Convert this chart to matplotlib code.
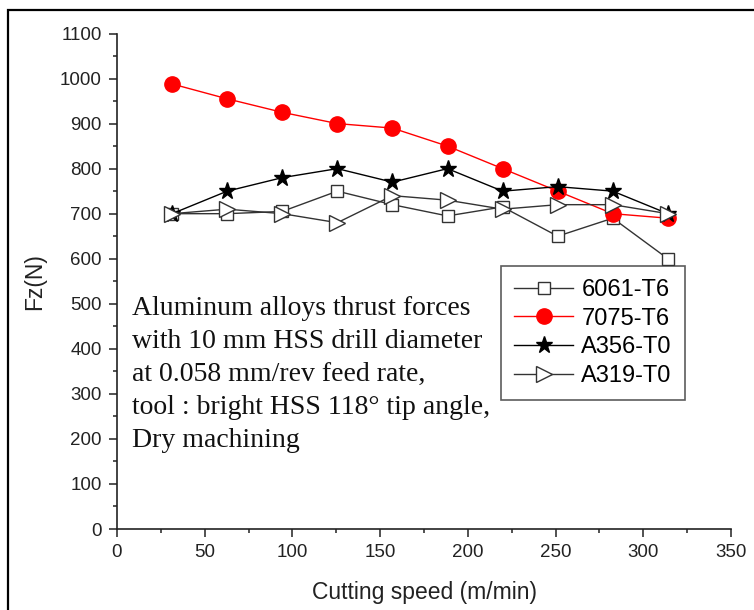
import matplotlib
matplotlib.use("Agg")
import matplotlib.pyplot as plt
from matplotlib.patches import Rectangle
from matplotlib.ticker import MultipleLocator

# cutting speeds (m/min)
speed = [31.4, 62.8, 94.2, 125.6, 157.0, 188.4, 219.8, 251.2, 282.6, 314.0]

# thrust force Fz (N) per alloy
fz_6061 = [700, 700, 705, 750, 720, 695, 715, 650, 690, 600]
fz_7075 = [988, 955, 925, 900, 890, 850, 800, 750, 700, 690]
fz_a356 = [700, 750, 780, 800, 770, 800, 750, 760, 750, 700]
fz_a319 = [700, 710, 700, 680, 740, 730, 710, 720, 720, 700]

labels = ['6061-T6', '7075-T6', 'A356-T0', 'A319-T0']

note = ("Aluminum alloys thrust forces\n"
        "with 10 mm HSS drill diameter\n"
        "at 0.058 mm/rev feed rate,\n"
        "tool : bright HSS 118\u00b0 tip angle,\n"
        "Dry machining")

plt.rcParams['font.family'] = ['Liberation Sans', 'DejaVu Sans']

fig = plt.figure(figsize=(7.54, 6.10), dpi=100)
ax = fig.add_axes([117 / 754, 81 / 610, 614 / 754, 495.5 / 610])

gray = '#333333'
ax.plot(speed, fz_6061, color=gray, lw=1.0, marker='s', ms=9,
        mfc='white', mec=gray, mew=1.0, label=labels[0])
ax.plot(speed, fz_7075, color='#ff0000', lw=1.0, marker='o', ms=11,
        mfc='#ff0000', mec='#ff0000', label=labels[1])
ax.plot(speed, fz_a356, color='black', lw=1.0, marker='*', ms=12.5,
        mfc='black', mec='black', label=labels[2])
ax.plot(speed, fz_a319, color=gray, lw=1.0, marker='>', ms=11,
        mfc='white', mec=gray, mew=1.0, label=labels[3])

ax.set_xlim(0, 350)
ax.set_ylim(0, 1100)
ax.xaxis.set_major_locator(MultipleLocator(50))
ax.xaxis.set_minor_locator(MultipleLocator(25))
ax.yaxis.set_major_locator(MultipleLocator(100))
ax.yaxis.set_minor_locator(MultipleLocator(50))

for s in ['top', 'right']:
    ax.spines[s].set_visible(False)
for s in ['left', 'bottom']:
    ax.spines[s].set_linewidth(1.2)
    ax.spines[s].set_color('#222222')

ax.tick_params(which='major', direction='out', length=6, width=1.1,
               labelsize=13.5, labelcolor='#222222', color='#222222', pad=5)
ax.tick_params(which='minor', direction='out', length=3, width=1.1, color='#222222')

ax.set_xlabel('Cutting speed (m/min)', fontsize=16.5, color='#222222', labelpad=14)
ax.set_ylabel('Fz(N)', fontsize=16.5, color='#222222', labelpad=10)

leg = ax.legend(loc='upper left', bbox_to_anchor=((501 - 117) / 614, (529 - 266) / 495.5),
                fontsize=17, frameon=True, fancybox=False, handlelength=2.5,
                handletextpad=0.35, labelspacing=0.28, borderpad=0.55, borderaxespad=0)
leg.get_frame().set_edgecolor(gray)
leg.get_frame().set_linewidth(1.2)

ax.text(132 / 754, 1 - 374.5 / 610, note, transform=fig.transFigure,
        ha='left', va='center', multialignment='left', linespacing=1.42,
        fontsize=20, family=['Liberation Serif', 'DejaVu Serif'], color='#111111')

# frame around the figure, cut off at right and bottom
fig.add_artist(Rectangle((8 / 754, -0.1), 1.2, 1.1 - 10 / 610, transform=fig.transFigure,
                         fill=False, edgecolor='black', lw=1.6))

fig.savefig('out.png', dpi=100)
